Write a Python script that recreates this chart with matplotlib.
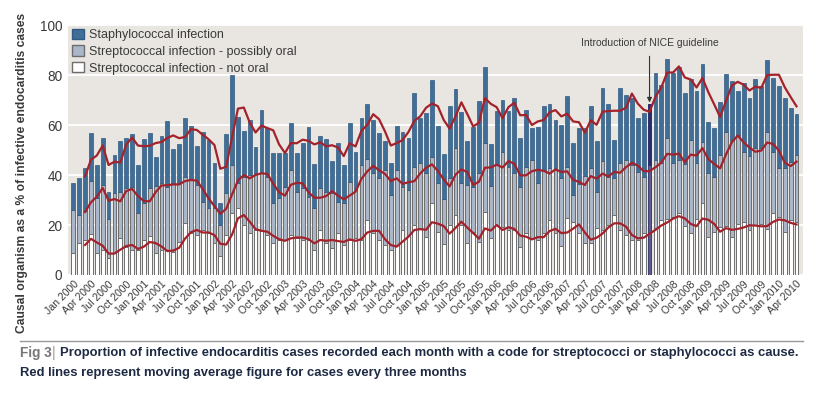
import numpy as np
import pandas as pd
import matplotlib
matplotlib.use("Agg")
import matplotlib.pyplot as plt
from matplotlib.patches import Patch

plt.rcParams['font.family'] = ['Liberation Sans', 'DejaVu Sans']

# monthly data, Jan 2000 .. Apr 2010 (% of cases)
month_names = ['Jan', 'Feb', 'Mar', 'Apr', 'May', 'Jun', 'Jul', 'Aug', 'Sep', 'Oct', 'Nov', 'Dec']
years = list(range(2000, 2011))

# top of each stacked bar (all three groups)
total_top = [36.7, 38.9, 42.7, 56.7, 44, 54.7, 33.3, 48, 53.6, 55, 56.3, 44,
             54.3, 56.7, 47.3, 55.6, 61.6, 50.3, 52.3, 63, 59.5, 51.6, 57.3, 54,
             44.7, 28.8, 56.3, 80, 63.3, 57.7, 62, 51.3, 66, 59, 48.7, 49,
             48.7, 60.7, 48.7, 53, 59.3, 44.4, 55.6, 54.4, 45.7, 53, 44, 61,
             49.3, 62.7, 68.3, 62, 56.7, 53.7, 45, 59.6, 57.3, 54.7, 73, 62.7,
             65, 78, 59.6, 48.4, 67.6, 74.3, 65.3, 53.7, 59.3, 69.7, 83.3, 52.4,
             65.7, 70, 65.7, 71, 55, 66, 59, 59.3, 67.6, 68.3, 62, 60,
             71.6, 52.7, 59, 59, 67.6, 53.6, 74.7, 68.4, 54, 74.7, 72, 71,
             62.7, 64.7, 68.4, 80.7, 76, 86.3, 80.7, 83.3, 73, 78.3, 73.7, 84.4,
             61.3, 59, 69.3, 80.4, 77.7, 73.7, 77, 70.7, 78.3, 75.6, 86, 78.7,
             75.6, 71, 67, 64.4]

# top of streptococcal part (not oral + possibly oral)
strep_top = [26, 24, 25.5, 37.7, 30.8, 36, 22.4, 32.7, 33.3, 34.7, 35.3, 24.7,
             28.7, 35, 35.7, 36.7, 35.3, 36.7, 36.7, 39.3, 38, 36, 29.3, 26.7,
             26.7, 20, 32.7, 44, 36.7, 39.3, 40, 40.7, 41.3, 39.3, 29, 31,
             35.3, 42, 33.3, 34.7, 31.3, 26.7, 34.7, 33.3, 32.7, 29.3, 28.7, 37.3,
             34, 44, 46.3, 40.7, 38.7, 42, 32, 42, 35.3, 34, 43.3, 44.7,
             40.7, 47.3, 37, 30.3, 39, 51, 36.7, 36, 35.3, 40.7, 52.7, 35.7,
             44, 49.3, 43.3, 41, 35.3, 43.3, 46, 37, 42, 42.7, 42, 39,
             43.3, 32, 36.4, 39.6, 42.7, 33.3, 45.7, 39.3, 38.7, 44.7, 46, 44,
             41.3, 39.3, 44, 46, 44.7, 54.7, 45, 46, 44.4, 54, 45, 53.3,
             40.7, 39.3, 48, 57.3, 54, 56, 49.3, 47.6, 51, 50.7, 57.3, 49.3,
             42.7, 42.7, 45.3, 48]

# streptococcal - not oral
not_oral = [9, 13, 14, 16.4, 8.7, 10, 7, 8.7, 14.7, 11.3, 10, 10,
            14, 15.6, 8.7, 10, 10, 9.3, 13.3, 21, 17, 16, 18, 17,
            13, 7.5, 16, 25, 27, 20, 17, 18, 18, 16, 13, 14,
            14, 16, 15, 14, 14, 10, 18, 13, 11, 16.7, 12, 14,
            15, 14, 22, 17, 14, 12, 10, 12, 18, 16, 20, 19,
            15.3, 29, 17.3, 12.4, 20, 24, 20, 13, 17.3, 13.3, 25.3, 14.7,
            20, 19.3, 18, 18, 11.3, 16.7, 14.7, 14, 16.7, 22, 16.7, 11.6,
            22.7, 21.3, 16.7, 13, 12.7, 19, 18, 20, 24, 18, 16, 14,
            14, 16.7, 18.7, 18.7, 22, 22.3, 23.3, 25, 19.6, 16.7, 22.3, 28.7,
            15.3, 17.3, 19.3, 19.6, 15.3, 20.4, 21.3, 18, 20, 20.4, 18.3, 25,
            23.3, 17.3, 22, 21.3]

nice_month = 'Mar 2008'

months = [f"{m} {y}" for y in years for m in month_names][:len(total_top)]

df = pd.DataFrame({'not_oral': not_oral, 'strep_top': strep_top, 'total_top': total_top}, index=months)
df['poss_oral'] = df['strep_top'] - df['not_oral']
df['staph'] = df['total_top'] - df['strep_top']

x = np.arange(len(df))
nice_idx = months.index(nice_month)

staph_col = '#3f6e99'
poss_col = '#aab6c9'
edge_col = '#6d6d6d'
red = '#a3222b'
txt = '#3a3a3a'

fig = plt.figure(figsize=(8.36, 3.97), dpi=100)
ax = fig.add_axes([68 / 836, 1 - 275 / 397, (803 - 68) / 836, 250 / 397])
ax.set_facecolor('#e9e6e2')

w = 0.65
ax.bar(x, df['not_oral'], w, color='white', edgecolor=edge_col, linewidth=0.7, zorder=2)
ax.bar(x, df['poss_oral'], w, bottom=df['not_oral'], color=poss_col, edgecolor=edge_col, linewidth=0.7, zorder=2)
ax.bar(x, df['staph'], w, bottom=df['strep_top'], color=staph_col, edgecolor='#335a80', linewidth=0.5, zorder=2)

# highlight month of NICE guideline
ax.bar(nice_idx, df['strep_top'].iloc[nice_idx], w, color='#5d5c8e', edgecolor='#3b3a6e', linewidth=0.6, zorder=3)
ax.bar(nice_idx, df['staph'].iloc[nice_idx], w, bottom=df['strep_top'].iloc[nice_idx],
       color='#2c2b6b', edgecolor='#2c2b6b', linewidth=0.6, zorder=3)

# three month moving averages
for col in ['total_top', 'strep_top', 'not_oral']:
    ma = df[col].rolling(3).mean()
    ax.plot(x, ma.values, color=red, linewidth=1.6, zorder=4)

ax.set_ylim(0, 100)
ax.set_xlim(-0.9, len(df) + 0.1)
ax.set_yticks(range(0, 101, 20))
ax.yaxis.grid(True, color='white', linewidth=1.3, zorder=0)
ax.set_axisbelow(True)
for s in ax.spines.values():
    s.set_visible(False)
ax.tick_params(axis='both', length=0, colors=txt)
ax.tick_params(axis='y', labelsize=9.8, pad=4)

ax.set_xticks(x[::3])
ax.set_xticklabels(months[::3], rotation=45, ha='right', rotation_mode='anchor', fontsize=7.6, color=txt)
ax.tick_params(axis='x', pad=3)

ax.set_ylabel('Causal organism as a % of infective endocarditis cases', fontsize=8.7,
              fontweight='bold', color=txt)
ax.yaxis.set_label_coords(-0.054, 0.41)

handles = [Patch(facecolor=staph_col, edgecolor='#335a80'),
           Patch(facecolor=poss_col, edgecolor=edge_col),
           Patch(facecolor='white', edgecolor=edge_col)]
labels = ['Staphylococcal infection', 'Streptococcal infection - possibly oral',
          'Streptococcal infection - not oral']
leg = ax.legend(handles, labels, loc='upper left', bbox_to_anchor=(-0.006, 1.02), frameon=False,
                fontsize=9, handlelength=0.9, handleheight=0.9, handletextpad=0.45,
                labelspacing=0.33, borderaxespad=0.3)
for t in leg.get_texts():
    t.set_color(txt)

ax.annotate('Introduction of NICE guideline', xy=(nice_idx, 69), xytext=(nice_idx, 92.8),
            ha='center', va='center', fontsize=7.5, color=txt,
            arrowprops=dict(arrowstyle='-|>', color='#333333', lw=0.8, mutation_scale=7,
                            shrinkA=4, shrinkB=0))

# caption
fig.add_artist(plt.Line2D([20 / 836, 803 / 836], [1 - 341 / 397] * 2, color='#999999', linewidth=1.0))
fig.text(20 / 836, 1 - 353 / 397, 'Fig 3', fontsize=9.8, fontweight='bold', color='#777777', va='center')
fig.text(52 / 836, 1 - 353 / 397, '|', fontsize=10, color='#999999', va='center')
fig.text(60 / 836, 1 - 353 / 397,
         'Proportion of infective endocarditis cases recorded each month with a code for streptococci or staphylococci as cause.',
         fontsize=9.4, fontweight='bold', color='#1e2a44', va='center')
fig.text(20 / 836, 1 - 373 / 397, 'Red lines represent moving average figure for cases every three months',
         fontsize=9.4, fontweight='bold', color='#1e2a44', va='center')

fig.savefig('out.png', dpi=100)
